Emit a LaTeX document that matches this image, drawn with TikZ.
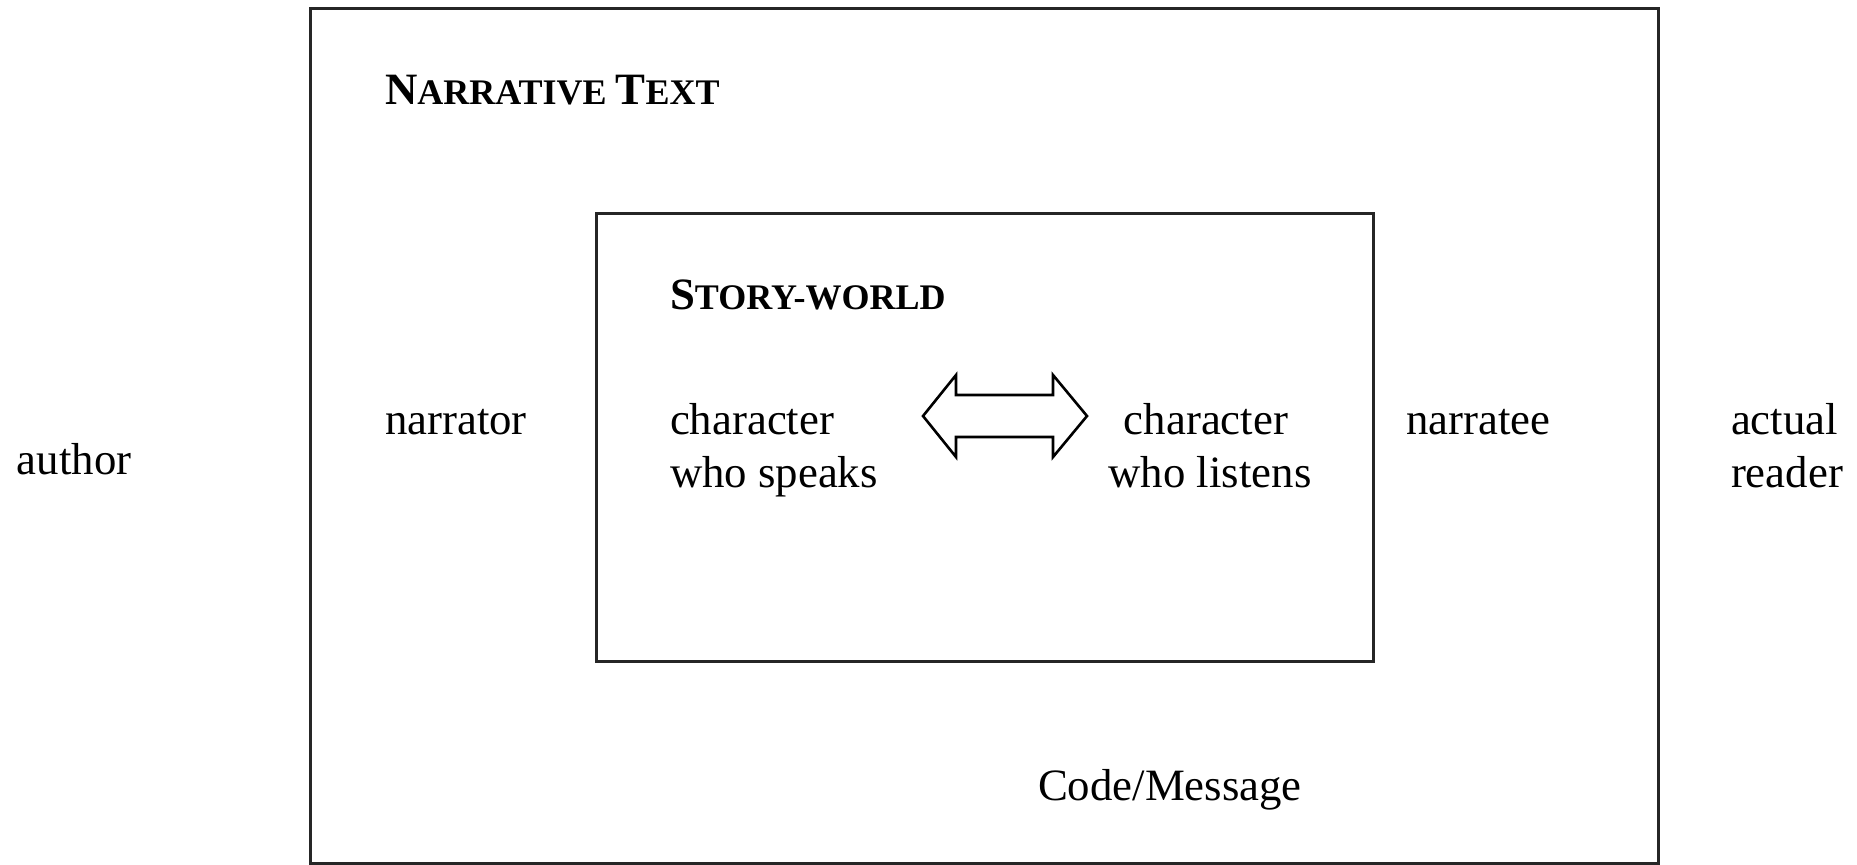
\documentclass[tikz,border=0pt]{standalone}
\usepackage{fontspec}
\setmainfont{Liberation Serif}
\newcommand\bodysz{\fontsize{22.4}{26}\selectfont}
\newcommand\bigsc{\fontsize{22.4}{26}\selectfont\bfseries}
\newcommand\smallsc{\fontsize{18}{22}\selectfont\bfseries}
\begin{document}
\begin{tikzpicture}[x=0.5pt,y=-0.5pt,
  frame/.style={draw=black!85,line width=1.5pt},
  lbl/.style={inner sep=0pt,outer sep=0pt,anchor=base west,font=\bodysz},
  lblc/.style={inner sep=0pt,outer sep=0pt,anchor=base,font=\bodysz},
  head/.style={inner sep=0pt,outer sep=0pt,anchor=base west},
  blockarrow/.style={draw=black,line width=1.3pt,line join=miter,fill=white}]
\useasboundingbox (0,0) rectangle (1857,864);
% boxes
\draw[frame] (310,8) rectangle (1658,863);
\draw[frame] (596,213) rectangle (1373,661);
% headings
\node[head] (nt) at (385,104) {{\bigsc N}{\smallsc ARRATIVE }{\bigsc T}{\smallsc EXT}};
\node[head] (sw) at (670,309) {{\bigsc S}{\smallsc TORY-WORLD}};
% labels
\node[lbl] (author) at (17,474) {author};
\node[lbl] (narrator) at (385,434) {narrator};
\node[lbl] (cs1) at (670,434) {character};
\node[lbl] (cs2) at (670,487) {who speaks};
\node[lblc] (cl1) at (1206,434) {character};
\node[lblc] (cl2) at (1210,487) {who listens};
\node[lbl] (narratee) at (1406,434) {narratee};
\node[lbl] (ar1) at (1731,434) {actual};
\node[lbl] (ar2) at (1731,487) {reader};
\node[lbl] (code) at (1038,800) {Code/Message};
% double block arrow between the characters
\coordinate (lt) at (923,416);
\coordinate (rt) at (1087,416);
\draw[blockarrow] (lt) -- (956,375) -- (956,395) -- (1053,395) -- (1053,375)
  -- (rt) -- (1053,457) -- (1053,437) -- (956,437) -- (956,457) -- cycle;
\end{tikzpicture}
\end{document}
